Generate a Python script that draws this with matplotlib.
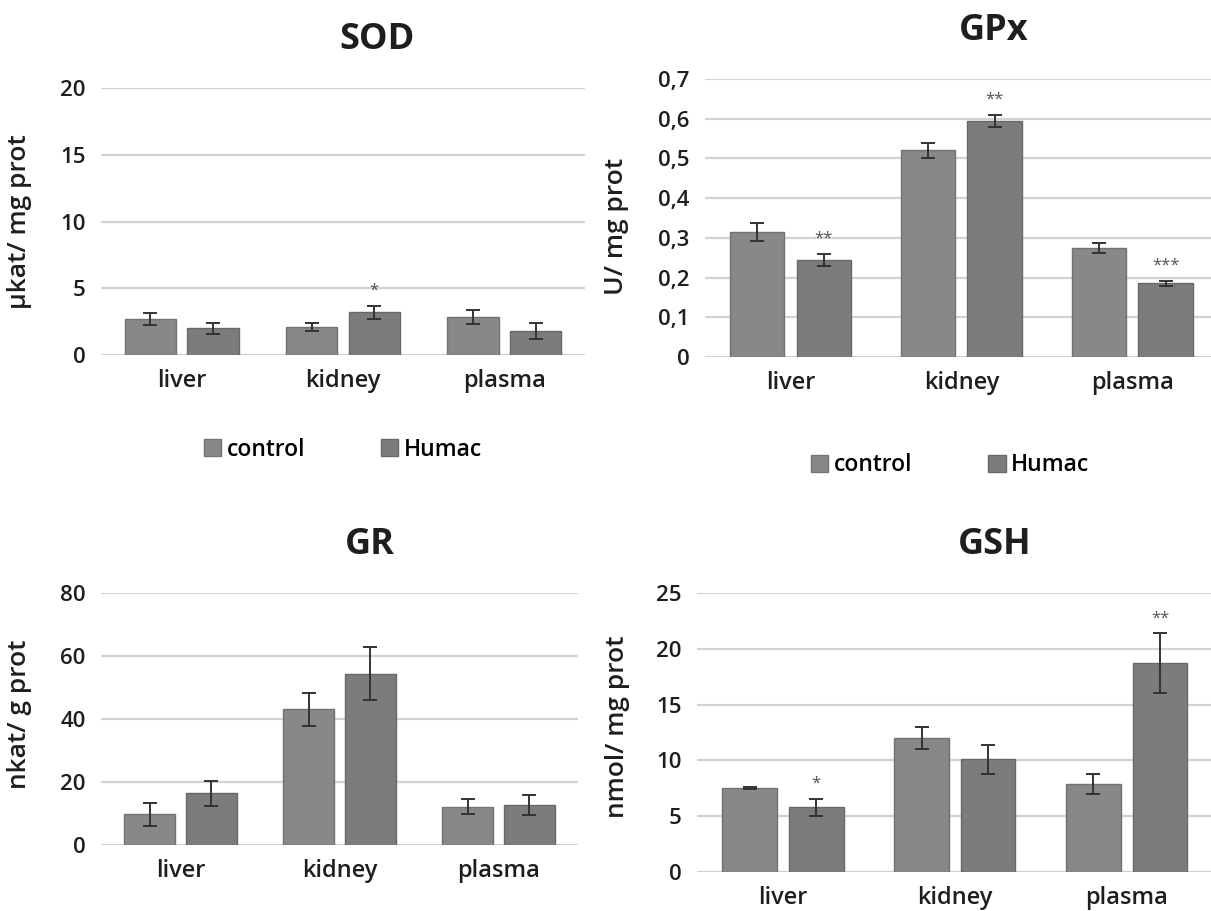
import numpy as np
import matplotlib.pyplot as plt

plt.rcParams['font.family'] = ['Open Sans', 'DejaVu Sans']

# categories and groups
tissues = ['liver', 'kidney', 'plasma']
groups = ['control', 'Humac']

# SOD (µkat/ mg prot)
sod_control = [2.7, 2.1, 2.85]
sod_control_err = [0.45, 0.3, 0.55]
sod_humac = [2.0, 3.2, 1.8]
sod_humac_err = [0.4, 0.5, 0.6]
sod_sig = ['', '*', '']

# GPx (U/ mg prot)
gpx_control = [0.315, 0.52, 0.274]
gpx_control_err = [0.022, 0.02, 0.012]
gpx_humac = [0.245, 0.595, 0.186]
gpx_humac_err = [0.015, 0.015, 0.006]
gpx_sig = ['**', '**', '***']

# GR (nkat/ g prot)
gr_control = [9.7, 43.1, 12.2]
gr_control_err = [3.7, 5.3, 2.3]
gr_humac = [16.4, 54.3, 12.7]
gr_humac_err = [3.9, 8.4, 3.2]
gr_sig = ['', '', '']

# GSH (nmol/ mg prot)
gsh_control = [7.5, 12.0, 7.9]
gsh_control_err = [0.1, 0.95, 0.9]
gsh_humac = [5.8, 10.1, 18.7]
gsh_humac_err = [0.75, 1.3, 2.7]
gsh_sig = ['*', '', '**']

W, H = 1211, 911
fig = plt.figure(figsize=(W / 100, H / 100), dpi=100)
TXT = '#1e1e1e'


def px_axes(left, top, right, bottom):
    # axes from pixel box of the reference
    return fig.add_axes([left / W, 1 - bottom / H, (right - left) / W, (bottom - top) / H])


def panel(ax, title, ylabel, ctrl, ctrl_err, hum, hum_err, sig, ymax, step,
          xright, ticklabels=None):
    x = np.arange(len(tissues))
    w = 0.317
    off = 0.194
    ekw = dict(ecolor='#333333', elinewidth=1.4, capsize=5, capthick=1.4)
    ax.bar(x - off, ctrl, w, yerr=ctrl_err, color='#888888', edgecolor='#727272',
           linewidth=1, error_kw=ekw, label=groups[0], zorder=3)
    ax.bar(x + off, hum, w, yerr=hum_err, color='#7c7c7c', edgecolor='#686868',
           linewidth=1, error_kw=ekw, label=groups[1], zorder=3)
    for i, s in enumerate(sig):
        if s:
            ax.annotate(s, (x[i] + off, hum[i] + hum_err[i]), xytext=(0, 5),
                        textcoords='offset points', ha='center', va='bottom',
                        fontsize=12, color='#555555')
    ax.set_xlim(-0.5, xright)
    ax.set_ylim(0, ymax)
    ticks = np.arange(0, ymax + step / 2, step)
    ax.set_yticks(ticks)
    if ticklabels is not None:
        ax.set_yticklabels(ticklabels)
    ax.set_xticks(x)
    ax.set_xticklabels(tissues)
    ax.tick_params(axis='y', length=0, labelsize=16, colors=TXT, pad=11)
    ax.tick_params(axis='x', length=0, labelsize=17, colors=TXT, pad=10)
    for lab in ax.get_yticklabels() + ax.get_xticklabels():
        lab.set_fontweight('semibold')
    for sp in ax.spines.values():
        sp.set_visible(False)
    ax.grid(axis='y', color='#d2d2d2', linewidth=1.6, zorder=0)
    ax.set_axisbelow(True)
    ax.set_title(title, fontsize=26, fontweight='bold', color=TXT, pad=28)
    ax.set_ylabel(ylabel, fontsize=19, fontweight='semibold', color=TXT)


def add_legend(ax, ycoord):
    ax.legend(loc='center', bbox_to_anchor=ycoord, ncol=2, frameon=False,
              handlelength=0.75, handleheight=0.75, handletextpad=0.25,
              columnspacing=3.3, prop={'weight': 'semibold', 'size': 16.5})


ax1 = px_axes(101, 88, 585, 355)
panel(ax1, 'SOD', 'µkat/ mg prot', sod_control, sod_control_err, sod_humac,
      sod_humac_err, sod_sig, 20, 5, 2.5)
ax1.yaxis.set_label_coords(-0.143, 0.5)
ax1.title.set_x(0.57)
add_legend(ax1, (0.5, -0.355))

ax2 = px_axes(705, 79, 1211, 357)
gpx_labels = ['0', '0,1', '0,2', '0,3', '0,4', '0,5', '0,6', '0,7']
panel(ax2, 'GPx', 'U/ mg prot', gpx_control, gpx_control_err, gpx_humac,
      gpx_humac_err, gpx_sig, 0.7, 0.1, 2.46, ticklabels=gpx_labels)
ax2.yaxis.set_label_coords(-0.15, 0.47)
ax2.title.set_x(0.571)
add_legend(ax2, (0.485, -0.39))

ax3 = px_axes(101, 593, 578, 845)
panel(ax3, 'GR', 'nkat/ g prot', gr_control, gr_control_err, gr_humac,
      gr_humac_err, gr_sig, 80, 20, 2.5)
ax3.yaxis.set_label_coords(-0.145, 0.52)
ax3.title.set_x(0.564)

ax4 = px_axes(697, 593, 1211, 872)
panel(ax4, 'GSH', 'nmol/ mg prot', gsh_control, gsh_control_err, gsh_humac,
      gsh_humac_err, gsh_sig, 25, 5, 2.49)
ax4.yaxis.set_label_coords(-0.13, 0.52)
ax4.title.set_x(0.58)

fig.savefig('out.png', dpi=100, facecolor='white')
